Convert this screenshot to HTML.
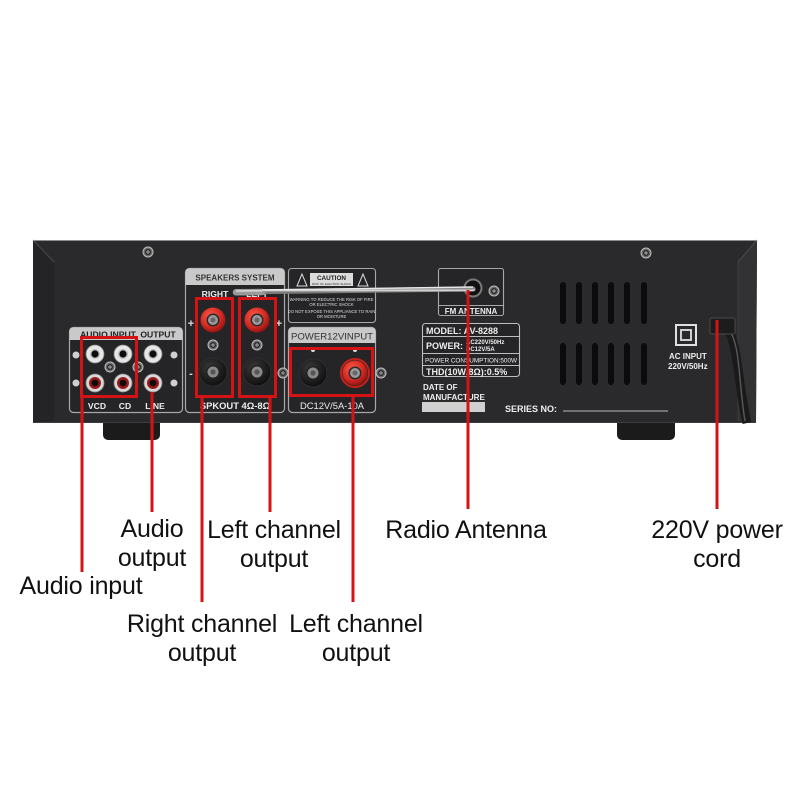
<!DOCTYPE html>
<html>
<head>
<meta charset="utf-8">
<style>
html,body{margin:0;padding:0;background:#fff;}
svg{display:block;}
.b{font-family:"Liberation Sans",Arial,sans-serif;font-weight:bold;}
.lab{font-family:"Liberation Sans",Arial,sans-serif;font-size:25px;fill:#111;text-anchor:middle;letter-spacing:-0.2px;}
</style>
</head>
<body>
<svg width="800" height="800" viewBox="0 0 800 800" xmlns="http://www.w3.org/2000/svg">
<defs>
<linearGradient id="rod" x1="0" y1="0" x2="0" y2="1">
<stop offset="0" stop-color="#8a8a8a"/>
<stop offset="0.4" stop-color="#e4e4e4"/>
<stop offset="1" stop-color="#7a7a7a"/>
</linearGradient>
<radialGradient id="redp" cx="0.4" cy="0.35" r="0.7">
<stop offset="0" stop-color="#ff5a4a"/>
<stop offset="0.6" stop-color="#d42a22"/>
<stop offset="1" stop-color="#8a1010"/>
</radialGradient>
<radialGradient id="blkp" cx="0.4" cy="0.35" r="0.7">
<stop offset="0" stop-color="#3a3a3a"/>
<stop offset="1" stop-color="#0c0c0c"/>
</radialGradient>
<g id="screw">
<circle r="5" fill="#6a6a6a" stroke="#bdbdbd" stroke-width="1"/>
<circle r="3" fill="#2a2a2a"/>
<path d="M-2,0H2M0,-2V2" stroke="#aaa" stroke-width="1"/>
</g>
<g id="wjack">
<circle r="9" fill="#e6e6e6" stroke="#888" stroke-width="0.8"/>
<circle r="5" fill="#bdbdbd"/>
<circle r="3.6" fill="#0c0c0c"/>
</g>
<g id="rjack">
<circle r="9" fill="#d8d8d8" stroke="#888" stroke-width="0.8"/>
<circle r="6" fill="#9a1a1a"/>
<circle r="3.4" fill="#0c0c0c"/>
</g>
<g id="redpost">
<circle r="12.5" fill="url(#redp)"/>
<circle r="6.5" fill="#2a2a2a"/>
<circle r="5" fill="#9a9a9a"/>
<circle r="2.5" fill="#666"/>
</g>
<g id="blkpost">
<circle r="14" fill="url(#blkp)" stroke="#2e2e2e" stroke-width="1"/>
<circle r="7" fill="#222"/>
<circle r="5.5" fill="#8a8a8a"/>
<circle r="2.6" fill="#555"/>
</g>
</defs>

<rect width="800" height="800" fill="#fff"/>

<!-- feet -->
<rect x="103" y="415" width="57" height="25" rx="5" fill="#1b1b1b"/>
<rect x="617" y="415" width="58" height="25" rx="5" fill="#1b1b1b"/>

<!-- chassis -->
<polygon points="33,240 757,240 756,423 33,423" fill="#2a2a2c"/>
<polygon points="33,240 54,262 54,421 33,423" fill="#242426"/>
<line x1="33" y1="240" x2="54" y2="262" stroke="#4a4a4c" stroke-width="1"/>
<polygon points="738,262 757,240 756,423 738,421" fill="#323234"/>
<line x1="738" y1="262" x2="738" y2="421" stroke="#3e3e40" stroke-width="1"/>
<line x1="738" y1="262" x2="757" y2="240" stroke="#4a4a4c" stroke-width="1"/>
<line x1="33" y1="240.5" x2="757" y2="240.5" stroke="#8c8c8c" stroke-width="1"/>
<line x1="33" y1="422.5" x2="756" y2="422.5" stroke="#3d3d3d" stroke-width="1"/>

<!-- top screws -->
<use href="#screw" x="148" y="252"/>
<use href="#screw" x="646" y="253"/>

<!-- AUDIO panel -->
<rect x="69.5" y="327.5" width="113" height="85" rx="4" fill="#252527" stroke="#a8a8a8" stroke-width="1.2"/>
<path d="M69.5,340 V331.5 Q69.5,327.5 73.5,327.5 H178.5 Q182.5,327.5 182.5,331.5 V340 Z" fill="#c9c9c9"/>
<text class="b" x="108" y="337.5" font-size="8.6" fill="#222" text-anchor="middle">AUDIO INPUT</text>
<text class="b" x="158" y="337.5" font-size="8.6" fill="#222" text-anchor="middle">OUTPUT</text>
<use href="#wjack" x="95" y="354"/>
<use href="#wjack" x="123" y="354"/>
<use href="#wjack" x="153" y="354"/>
<use href="#rjack" x="95" y="383"/>
<use href="#rjack" x="123" y="383"/>
<use href="#rjack" x="153" y="383"/>
<use href="#screw" x="110" y="367"/>
<use href="#screw" x="138" y="367"/>
<circle cx="76" cy="355" r="3.5" fill="#cfcfcf"/>
<circle cx="174" cy="355" r="3.5" fill="#cfcfcf"/>
<circle cx="76" cy="383" r="3.5" fill="#cfcfcf"/>
<circle cx="174" cy="383" r="3.5" fill="#cfcfcf"/>
<text class="b" x="97" y="409" font-size="8.6" fill="#eee" text-anchor="middle">VCD</text>
<text class="b" x="125" y="409" font-size="8.6" fill="#eee" text-anchor="middle">CD</text>
<text class="b" x="155" y="409" font-size="8.6" fill="#eee" text-anchor="middle">LINE</text>

<!-- SPEAKERS panel -->
<rect x="185.5" y="268.5" width="99" height="144" rx="4" fill="#252527" stroke="#a8a8a8" stroke-width="1.2"/>
<path d="M185.5,285 V272.5 Q185.5,268.5 189.5,268.5 H280.5 Q284.5,268.5 284.5,272.5 V285 Z" fill="#c9c9c9"/>
<text class="b" x="235" y="280.5" font-size="8" fill="#333" text-anchor="middle">SPEAKERS SYSTEM</text>
<text class="b" x="215" y="297" font-size="8.6" fill="#eee" text-anchor="middle">RIGHT</text>
<text class="b" x="257" y="297" font-size="8.6" fill="#eee" text-anchor="middle">LEFT</text>
<use href="#redpost" x="213" y="320"/>
<use href="#redpost" x="257" y="320"/>
<use href="#screw" x="213" y="345"/>
<use href="#screw" x="257" y="345"/>
<use href="#blkpost" x="213" y="372"/>
<use href="#blkpost" x="257" y="372"/>
<text class="b" x="191" y="327" font-size="11" fill="#ddd" text-anchor="middle">+</text>
<text class="b" x="279" y="327" font-size="11" fill="#ddd" text-anchor="middle">+</text>
<text class="b" x="191" y="377" font-size="11" fill="#ddd" text-anchor="middle">-</text>
<text class="b" x="235" y="409" font-size="9.4" fill="#eee" text-anchor="middle">SPKOUT 4Ω-8Ω</text>

<!-- CAUTION panel -->
<rect x="288.5" y="268.5" width="87" height="54" rx="3" fill="#252527" stroke="#a8a8a8" stroke-width="1.1"/>
<rect x="310" y="273" width="43" height="13" fill="#dcdcdc"/>
<text class="b" x="331.5" y="280" font-size="6.4" fill="#222" text-anchor="middle">CAUTION</text>
<text x="331.5" y="285" font-size="3" fill="#333" text-anchor="middle" font-family="Liberation Sans,sans-serif">RISK OF ELECTRIC SHOCK</text>
<polygon points="302,274 297,286 307,286" fill="none" stroke="#ddd" stroke-width="1"/>
<polygon points="363,274 358,286 368,286" fill="none" stroke="#ddd" stroke-width="1"/>
<text x="331.5" y="301" font-size="4.2" fill="#ddd" text-anchor="middle" font-family="Liberation Sans,sans-serif">WARNING TO REDUCE THE RISK OF FIRE</text>
<text x="331.5" y="306" font-size="4.2" fill="#ddd" text-anchor="middle" font-family="Liberation Sans,sans-serif">OR ELECTRIC SHOCK</text>
<text x="331.5" y="313" font-size="4.2" fill="#ddd" text-anchor="middle" font-family="Liberation Sans,sans-serif">DO NOT EXPOSE THIS APPLIANCE TO RAIN</text>
<text x="331.5" y="318" font-size="4.2" fill="#ddd" text-anchor="middle" font-family="Liberation Sans,sans-serif">OR MOISTURE</text>

<!-- POWER panel -->
<rect x="288.5" y="327.5" width="87" height="85" rx="4" fill="#252527" stroke="#a8a8a8" stroke-width="1.2"/>
<path d="M288.5,343 V331.5 Q288.5,327.5 292.5,327.5 H371.5 Q375.5,327.5 375.5,331.5 V343 Z" fill="#c9c9c9"/>
<text x="332" y="339.5" font-size="9.6" fill="#333" text-anchor="middle" font-family="Liberation Sans,sans-serif">POWER12VINPUT</text>
<circle cx="313" cy="350" r="2" fill="#ddd"/>
<circle cx="355" cy="350" r="2" fill="#ddd"/>
<use href="#blkpost" x="313" y="373"/>
<use href="#redpost" x="355" y="373"/>
<circle cx="355" cy="373" r="14" fill="none" stroke="#c52219" stroke-width="2"/>
<use href="#screw" x="283" y="373"/>
<use href="#screw" x="381" y="373"/>
<text x="332" y="409" font-size="9.4" fill="#eee" text-anchor="middle" font-family="Liberation Sans,sans-serif">DC12V/5A-10A</text>

<!-- FM antenna panel -->
<rect x="438.5" y="268.5" width="65" height="47" rx="2" fill="#252527" stroke="#a8a8a8" stroke-width="1.1"/>
<line x1="438.5" y1="305.5" x2="503.5" y2="305.5" stroke="#a8a8a8" stroke-width="1"/>
<text class="b" x="471" y="314" font-size="8" fill="#eee" text-anchor="middle">FM ANTENNA</text>
<circle cx="473" cy="288" r="8.5" fill="#111" stroke="#7a7a7a" stroke-width="2"/>
<use href="#screw" x="494" y="291"/>

<!-- antenna rod -->
<path d="M236,292 L473,289" stroke="url(#rod)" stroke-width="5" stroke-linecap="round"/>
<path d="M236,292.3 L262,292" stroke="#9a9a9a" stroke-width="6.5" stroke-linecap="round"/>
<path d="M236,291 L262,290.7" stroke="#d8d8d8" stroke-width="1.5"/>
<path d="M262,290 L473,287" stroke="#e8e8e8" stroke-width="1.4"/>

<!-- Model panel -->
<rect x="422.5" y="323.5" width="97" height="53" rx="3" fill="#252527" stroke="#bdbdbd" stroke-width="1.1"/>
<line x1="422.5" y1="336.5" x2="519.5" y2="336.5" stroke="#bdbdbd" stroke-width="1"/>
<line x1="422.5" y1="353.5" x2="519.5" y2="353.5" stroke="#bdbdbd" stroke-width="1"/>
<line x1="422.5" y1="365.5" x2="519.5" y2="365.5" stroke="#bdbdbd" stroke-width="1"/>
<text class="b" x="426" y="334" font-size="9" fill="#eee">MODEL:  AV-8288</text>
<text class="b" x="426" y="349" font-size="9" fill="#eee">POWER:</text>
<text class="b" x="466" y="344" font-size="6" fill="#eee">AC220V/50Hz</text>
<text class="b" x="466" y="351" font-size="6" fill="#eee">DC12V/5A</text>
<text x="425" y="362.5" font-size="6.2" fill="#eee" font-family="Liberation Sans,sans-serif" textLength="92" lengthAdjust="spacingAndGlyphs">POWER CONSUMPTION:500W</text>
<text class="b" x="426" y="375" font-size="9" fill="#eee">THD(10W/8Ω):0.5%</text>
<text class="b" x="423" y="390" font-size="8" fill="#eee">DATE OF</text>
<text class="b" x="423" y="400" font-size="8" fill="#eee">MANUFACTURE</text>
<rect x="422" y="402" width="63" height="10" fill="#cfcfcf"/>
<text class="b" x="505" y="412" font-size="9" fill="#eee">SERIES NO:</text>
<line x1="563" y1="411" x2="668" y2="411" stroke="#bbb" stroke-width="1"/>

<!-- vents -->
<g fill="#0b0b0b">
<rect x="560" y="282" width="6" height="42" rx="3"/>
<rect x="576" y="282" width="6" height="42" rx="3"/>
<rect x="592" y="282" width="6" height="42" rx="3"/>
<rect x="608" y="282" width="6" height="42" rx="3"/>
<rect x="624" y="282" width="6" height="42" rx="3"/>
<rect x="641" y="282" width="6" height="42" rx="3"/>
<rect x="560" y="343" width="6" height="42" rx="3"/>
<rect x="576" y="343" width="6" height="42" rx="3"/>
<rect x="592" y="343" width="6" height="42" rx="3"/>
<rect x="608" y="343" width="6" height="42" rx="3"/>
<rect x="624" y="343" width="6" height="42" rx="3"/>
<rect x="641" y="343" width="6" height="42" rx="3"/>
</g>

<!-- AC input -->
<rect x="676" y="325" width="20" height="20" fill="none" stroke="#e0e0e0" stroke-width="2"/>
<rect x="681" y="330" width="10" height="10" fill="none" stroke="#e0e0e0" stroke-width="1.8"/>
<text class="b" x="669" y="359" font-size="8" fill="#eee">AC INPUT</text>
<text class="b" x="668" y="369" font-size="8" fill="#eee">220V/50Hz</text>

<!-- power cord -->
<path d="M728,330 C738,345 738,385 747,423" stroke="#1a1a1a" stroke-width="9" fill="none"/>
<path d="M731,333 C740,348 739,385 745,421" stroke="#5a5a5a" stroke-width="1.4" fill="none"/>
<rect x="710" y="318" width="25" height="16" rx="2" fill="#1c1c1c" stroke="#4a4a4a" stroke-width="1"/>

<!-- red boxes -->
<g fill="none" stroke="#d41414" stroke-width="3">
<rect x="81.5" y="337.5" width="55" height="59"/>
<rect x="196.5" y="298.5" width="36" height="98"/>
<rect x="239.5" y="298.5" width="36" height="98"/>
<rect x="290.5" y="348.5" width="82" height="47"/>
</g>

<!-- red leader lines -->
<g stroke="#d41414" stroke-width="3">
<line x1="82" y1="397" x2="82" y2="572"/>
<line x1="152" y1="392" x2="152" y2="512"/>
<line x1="202" y1="397" x2="202" y2="602"/>
<line x1="270" y1="397" x2="270" y2="512"/>
<line x1="353" y1="395" x2="353" y2="602"/>
<line x1="468" y1="290" x2="468" y2="509"/>
<line x1="717" y1="320" x2="717" y2="509"/>
</g>

<!-- labels -->
<text class="lab" x="152" y="537">Audio</text>
<text class="lab" x="152" y="566">output</text>
<text class="lab" x="81" y="594">Audio input</text>
<text class="lab" x="274" y="538">Left channel</text>
<text class="lab" x="274" y="567">output</text>
<text class="lab" x="202" y="632">Right channel</text>
<text class="lab" x="202" y="661">output</text>
<text class="lab" x="356" y="632">Left channel</text>
<text class="lab" x="356" y="661">output</text>
<text class="lab" x="466" y="538">Radio Antenna</text>
<text class="lab" x="717" y="538">220V power</text>
<text class="lab" x="717" y="567">cord</text>
</svg>
</body>
</html>
